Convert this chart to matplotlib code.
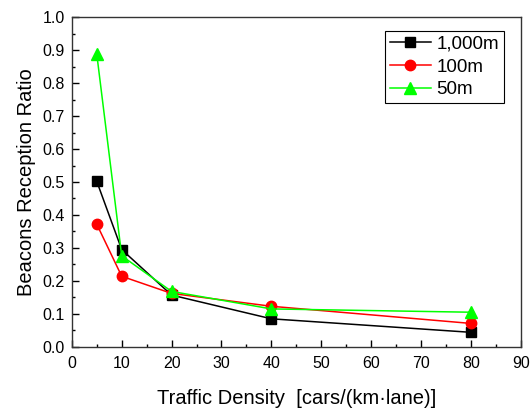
import matplotlib
matplotlib.use("Agg")
import matplotlib.pyplot as plt
from matplotlib.ticker import MultipleLocator, FormatStrFormatter

plt.rcParams["font.family"] = ["Liberation Sans", "DejaVu Sans"]

# traffic density [cars/(km.lane)]
density = [5, 10, 20, 40, 80]

ratio_1000m = [0.502, 0.295, 0.157, 0.085, 0.044]
ratio_100m = [0.372, 0.214, 0.162, 0.123, 0.071]
ratio_50m = [0.888, 0.276, 0.168, 0.115, 0.105]

labels = ["1,000m", "100m", "50m"]

fig = plt.figure(figsize=(5.32, 4.09), dpi=100)
ax = fig.add_axes([0.135, 0.152, 0.844, 0.806])

ax.plot(density, ratio_1000m, color="black", marker="s", ms=7, lw=1.1, label=labels[0])
ax.plot(density, ratio_100m, color="#ff0000", marker="o", ms=7.5, lw=1.1, label=labels[1])
ax.plot(density, ratio_50m, color="#00ff00", marker="^", ms=8.5, lw=1.1, label=labels[2])

ax.set_xlim(0, 90)
ax.set_ylim(0.0, 1.0)
ax.xaxis.set_major_locator(MultipleLocator(10))
ax.xaxis.set_minor_locator(MultipleLocator(5))
ax.yaxis.set_major_locator(MultipleLocator(0.1))
ax.yaxis.set_minor_locator(MultipleLocator(0.05))
ax.yaxis.set_major_formatter(FormatStrFormatter("%.1f"))
ax.tick_params(which="major", direction="in", length=5, width=1, labelsize=11.5, pad=6.5)
ax.tick_params(axis="y", which="major", pad=5)
ax.tick_params(which="minor", direction="in", length=2.5, width=1)
for s in ax.spines.values():
    s.set_linewidth(1.0)
    s.set_color("#333333")

ax.set_xlabel("Traffic Density  [cars/(km\u00b7lane)]", fontsize=14.5, labelpad=13)
ax.set_ylabel("Beacons Reception Ratio", fontsize=14.5, labelpad=5)

leg = ax.legend(loc="upper right", bbox_to_anchor=(0.962, 0.958), fontsize=13.5,
                fancybox=False, edgecolor="black", framealpha=1,
                handlelength=2.2, handletextpad=0.3, borderpad=0.25,
                labelspacing=0.3, borderaxespad=0)
leg.get_frame().set_linewidth(0.8)

fig.savefig("out.png", dpi=100)
